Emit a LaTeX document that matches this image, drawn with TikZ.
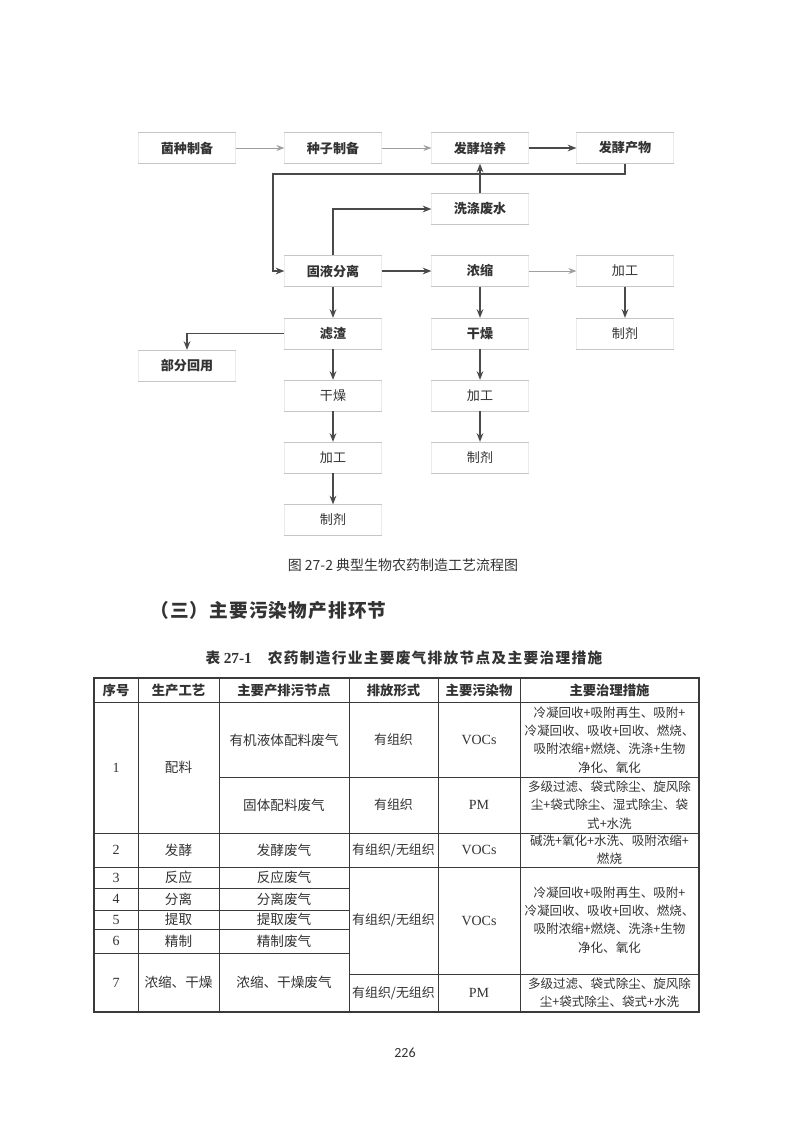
\documentclass[tikz,border=0pt]{standalone}
\usepackage{fontspec}
\setmainfont{Liberation Serif}
\newfontfamily\cjk{Noto Sans CJK SC}
\newfontfamily\pnum{Carlito}
\usetikzlibrary{arrows.meta}
\definecolor{ink}{HTML}{333333}
\definecolor{arrowc}{HTML}{4A4A4A}
\definecolor{rule}{HTML}{3A3A3A}
\begin{document}
\begin{tikzpicture}[x=0.75pt,y=-0.75pt,
  fbox/.style={minimum width=72.5pt,minimum height=23pt,inner sep=0pt,
    font=\cjk\bfseries\fontsize{9.8}{12}\selectfont,text=ink},
  fboxl/.style={fbox,font=\cjk\fontsize{9.8}{12}\selectfont},
  boxtb/.style={draw=gray!45,line width=0.5pt},
  boxsd/.style={draw=gray!16,line width=0.4pt},
  arr/.style={draw=arrowc,line width=1.1pt,-{Stealth[length=6.5pt,width=5pt]}},
  arrthin/.style={draw=gray!75,line width=0.7pt,-{Stealth[length=6pt,width=4.5pt]}},
  tline/.style={draw=rule,line width=0.55pt},
  touter/.style={draw=rule,line width=1.1pt},
  thead/.style={inner sep=0pt,text=ink,font=\cjk\bfseries\fontsize{10}{12}\selectfont},
  tcell/.style={inner sep=0pt,text=ink,align=center,font=\cjk\fontsize{10.2}{13.8}\selectfont},
  tcellb/.style={inner sep=0pt,text=ink,align=center,font=\cjk\fontsize{9.7}{13.8}\selectfont},
  tnum/.style={inner sep=0pt,text=ink,font=\fontsize{10.5}{12}\selectfont},
  tmeas/.style={inner sep=0pt,text=ink,align=center,font=\cjk\fontsize{9.4}{13.8}\selectfont}
]
\useasboundingbox[fill=white] (0,0) rectangle (793,1122);

% ---------------- flow chart ----------------
\node[fbox]  (a1) at (187,148) {菌种制备};
\node[fbox]  (a2) at (333,148) {种子制备};
\node[fbox]  (a3) at (480,148) {发酵培养};
\node[fbox]  (a4) at (625,148) {发酵产物};
\node[fbox]  (w)  at (480,209) {洗涤废水};
\node[fbox]  (b1) at (333,271) {固液分离};
\node[fbox]  (b2) at (480,271) {浓缩};
\node[fboxl] (b3) at (625,271) {加工};
\node[fbox]  (c1) at (333,333.5) {滤渣};
\node[fbox]  (c2) at (480,333.5) {干燥};
\node[fboxl] (c3) at (625,333.5) {制剂};
\node[fbox]  (r)  at (187,365.5) {部分回用};
\node[fboxl] (d1) at (333,395.5) {干燥};
\node[fboxl] (d2) at (480,395.5) {加工};
\node[fboxl] (e1) at (333,457.5) {加工};
\node[fboxl] (e2) at (480,457.5) {制剂};
\node[fboxl] (f1) at (333,520) {制剂};

\foreach \n in {a1,a2,a3,a4,w,b1,b2,b3,c1,c2,c3,r,d1,d2,e1,e2,f1}{
  \draw[boxsd] (\n.north west) -- (\n.south west) (\n.north east) -- (\n.south east);
  \draw[boxtb] (\n.north west) -- (\n.north east) (\n.south west) -- (\n.south east);
}

\coordinate (k1) at (273,174);
\draw[arrthin] (a1) -- (a2);
\draw[arrthin] (a2) -- (a3);
\draw[arr] (a3) -- (a4);
\draw[arr] (a4.south) |- (k1) |- (b1.west);
\draw[arr] (w.north) -- (a3.south);
\draw[arr] (b1.north) |- (w.west);
\draw[arr] (b1) -- (b2);
\draw[arrthin] (b2) -- (b3);
\draw[arr] (b1) -- (c1);
\draw[arr] (b2) -- (c2);
\draw[arr] (b3) -- (c3);
\draw[arr] (c1.west) -| (r.north);
\draw[arr] (c1) -- (d1);
\draw[arr] (d1) -- (e1);
\draw[arr] (e1) -- (f1);
\draw[arr] (c2) -- (d2);
\draw[arr] (d2) -- (e2);

% ---------------- captions ----------------
\node[inner sep=0pt,text=ink,font=\cjk\fontsize{10.5}{12}\selectfont] (cap) at (403,565) {图 27-2 典型生物农药制造工艺流程图};
\node[inner sep=0pt,anchor=west,text=ink,font=\cjk\bfseries\addfontfeatures{LetterSpace=6}\fontsize{14}{16}\selectfont] (sec) at (150,610) {（三）主要污染物产排环节};
\node[inner sep=0pt,text=ink] (ttl) at (404,658) {{\fontsize{11}{13}\selectfont\cjk\bfseries 表 }{\fontsize{11.5}{13}\selectfont\bfseries 27-1}\hspace{12pt}{\cjk\bfseries\addfontfeatures{LetterSpace=9}\fontsize{11}{13}\selectfont 农药制造行业主要废气排放节点及主要治理措施}};

% ---------------- table ----------------
\draw[touter] (94,678) rectangle (699,1012);
\foreach \x in {138,219,349,438,520}{\draw[tline] (\x,678) -- (\x,1012);}
\draw[tline] (94,702) -- (699,702);
\draw[tline] (219,777) -- (699,777);
\draw[tline] (94,833) -- (699,833);
\draw[tline] (94,867) -- (699,867);
\foreach \y in {888,910,929,953}{\draw[tline] (94,\y) -- (349,\y);}
\draw[tline] (349,974) -- (699,974);

% header
\node[thead] (h1) at (116,690) {序号};
\node[thead] (h2) at (178.5,690) {生产工艺};
\node[thead] (h3) at (284,690) {主要产排污节点};
\node[thead] (h4) at (393.5,690) {排放形式};
\node[thead] (h5) at (479,690) {主要污染物};
\node[thead] (h6) at (609.5,690) {主要治理措施};

% row 1
\node[tnum]  (n1) at (116,767.5) {1};
\node[tcell] (p1) at (178.5,767.5) {配料};
\node[tcell] (s1a) at (284,740) {有机液体配料废气};
\node[tcell] (s1b) at (284,805) {固体配料废气};
\node[tcellb] (f1a) at (393.5,740) {有组织};
\node[tcellb] (f1b) at (393.5,805) {有组织};
\node[tnum]  (v1a) at (479,740) {VOCs};
\node[tnum]  (v1b) at (479,805) {PM};
\node[tmeas] (m1a) at (609.5,740) {冷凝回收+吸附再生、吸附+\\冷凝回收、吸收+回收、燃烧、\\吸附浓缩+燃烧、洗涤+生物\\净化、氧化};
\node[tmeas] (m1b) at (609.5,805) {多级过滤、袋式除尘、旋风除\\尘+袋式除尘、湿式除尘、袋\\式+水洗};

% row 2
\node[tnum]  (n2) at (116,850) {2};
\node[tcell] (p2) at (178.5,850) {发酵};
\node[tcell] (s2) at (284,850) {发酵废气};
\node[tcellb] (f2) at (393.5,850) {有组织/无组织};
\node[tnum]  (v2) at (479,850) {VOCs};
\node[tmeas] (m2) at (609.5,850) {碱洗+氧化+水洗、吸附浓缩+\\燃烧};

% rows 3-6
\node[tnum]  (n3) at (116,877.5) {3};
\node[tcell] (p3) at (178.5,877.5) {反应};
\node[tcell] (s3) at (284,877.5) {反应废气};
\node[tnum]  (n4) at (116,899) {4};
\node[tcell] (p4) at (178.5,899) {分离};
\node[tcell] (s4) at (284,899) {分离废气};
\node[tnum]  (n5) at (116,919.5) {5};
\node[tcell] (p5) at (178.5,919.5) {提取};
\node[tcell] (s5) at (284,919.5) {提取废气};
\node[tnum]  (n6) at (116,941) {6};
\node[tcell] (p6) at (178.5,941) {精制};
\node[tcell] (s6) at (284,941) {精制废气};
\node[tcellb] (f3) at (393.5,920.5) {有组织/无组织};
\node[tnum]  (v3) at (479,920.5) {VOCs};
\node[tmeas] (m3) at (609.5,920) {冷凝回收+吸附再生、吸附+\\冷凝回收、吸收+回收、燃烧、\\吸附浓缩+燃烧、洗涤+生物\\净化、氧化};

% row 7
\node[tnum]  (n7) at (116,982.5) {7};
\node[tcell] (p7) at (178.5,982.5) {浓缩、干燥};
\node[tcell] (s7) at (284,982.5) {浓缩、干燥废气};
\node[tcellb] (f4) at (393.5,993) {有组织/无组织};
\node[tnum]  (v4) at (479,993) {PM};
\node[tmeas] (m4) at (609.5,992.5) {多级过滤、袋式除尘、旋风除\\尘+袋式除尘、袋式+水洗};

% page number
\node[inner sep=0pt,text=ink,font=\pnum\fontsize{10.5}{12}\selectfont] (pg) at (405,1053) {226};
\end{tikzpicture}
\end{document}
